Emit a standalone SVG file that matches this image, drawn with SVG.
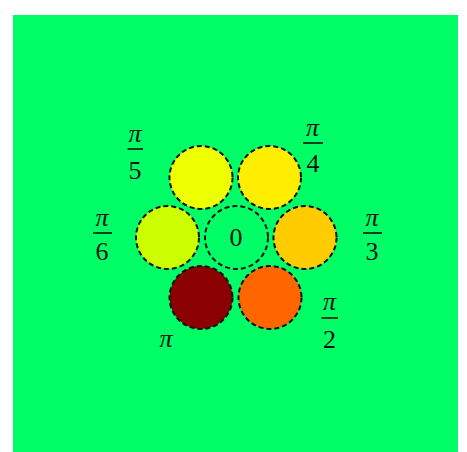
<svg xmlns="http://www.w3.org/2000/svg" width="467" height="452" viewBox="0 0 467 452">
<style>
.c{stroke:#111;stroke-width:2;stroke-dasharray:5 3}
.t{font-family:'Liberation Serif',serif;font-size:26px;fill:#111;text-anchor:middle}
.p{font-style:italic}
.b{stroke:#111;stroke-width:1.6}
</style>
<rect x="0" y="0" width="467" height="452" fill="#ffffff"/>
<rect x="13" y="15" width="445" height="437" fill="#00ff66"/>
<g id="node-pi5"><circle class="c" cx="201" cy="177.5" r="31.5" fill="#eeff00"/></g>
<g id="node-pi4"><circle class="c" cx="269.5" cy="177.5" r="31.5" fill="#ffee00"/></g>
<g id="node-pi6"><circle class="c" cx="167.5" cy="237.5" r="31.5" fill="#ccff00"/></g>
<g id="node-0"><circle class="c" cx="236.5" cy="237.5" r="31.5" fill="#00ff66"/><text class="t" x="236" y="246">0</text></g>
<g id="node-pi3"><circle class="c" cx="305" cy="237.5" r="31.5" fill="#ffcc00"/></g>
<g id="node-pi"><circle class="c" cx="201" cy="297.5" r="31.5" fill="#8b0000"/></g>
<g id="node-pi2"><circle class="c" cx="270" cy="297.5" r="31.5" fill="#ff6600"/></g>
<g id="labels">
<g id="label-pi5"><text class="t p" x="135" y="142">π</text><line class="b" x1="127.5" y1="149" x2="143" y2="149"/><text class="t" x="135" y="179">5</text></g>
<g id="label-pi4"><text class="t p" x="312.5" y="136">π</text><line class="b" x1="303" y1="143" x2="323" y2="143"/><text class="t" x="313" y="172">4</text></g>
<g id="label-pi6"><text class="t p" x="102" y="226">π</text><line class="b" x1="93" y1="233" x2="112" y2="233"/><text class="t" x="102" y="260">6</text></g>
<g id="label-pi3"><text class="t p" x="372" y="226">π</text><line class="b" x1="363" y1="233" x2="382" y2="233"/><text class="t" x="372" y="260">3</text></g>
<g id="label-pi2"><text class="t p" x="329.5" y="310">π</text><line class="b" x1="321.5" y1="318" x2="338" y2="318"/><text class="t" x="329.5" y="348">2</text></g>
<g id="label-pi"><text class="t p" x="166" y="347">π</text></g>
</g>
<g id="connectors"/>
</svg>
